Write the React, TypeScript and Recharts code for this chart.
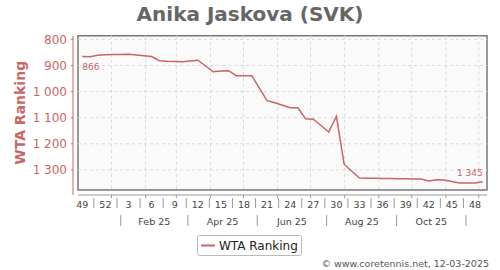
import { FC } from "react";
import { LineChart, Line, XAxis, YAxis, ReferenceLine, ReferenceArea } from "recharts";

// weekly WTA ranking, week 49 (2024) .. week 49 (2025)
const RANKS = [
  866, 867, 861, 859, 858, 858, 857, 860, 863, 866,
  882, 884, 885, 886, 883, 880, 902, 924, 921, 920,
  939, 939, 939, 987, 1035, 1043, 1052, 1062, 1062, 1104,
  1106, 1130, 1155, 1094, 1278, 1305, 1331, 1332, 1332, 1333,
  1333, 1334, 1334, 1335, 1335, 1342, 1338, 1339, 1344, 1350,
  1350, 1350, 1345,
];
const Y_TICKS = [800, 900, 1000, 1100, 1200, 1300];
const WEEK_TICKS = [0, 3, 6, 9, 12, 15, 18, 21, 24, 27, 30, 33, 36, 39, 42, 45, 48, 51];
const MONTH_NAMES = ["Feb 25", "Apr 25", "Jun 25", "Aug 25", "Oct 25"];

const data = RANKS.map((rank, i) => ({ i, rank }));

const RED = "#c96565";
const FONT = "DejaVu Sans, sans-serif";

// axis extents (frame sits inside, axes offset by a few px)
const X_MIN = -1.21;
const X_MAX = 52.56;
const FRAME_LEFT = -0.56;
const Y_TOP = 786;
const FRAME_BOTTOM = 1377;
const Y_BOT = 1396;

// month positions in week units from the first point
const DAY0 = Date.UTC(2024, 11, 5, 12);
const monthPos = (m: number) => (Date.UTC(2025, m, 1) - DAY0) / (7 * 864e5);
const MONTH_STARTS = Array.from({ length: 12 }, (_, m) => monthPos(m));
const MONTH_LABEL_POS = [1, 3, 5, 7, 9].map((m) => (monthPos(m) + monthPos(m + 1)) / 2);
const MONTH_SEP_POS = [0, 2, 4, 6, 8, 10].map((m) => (monthPos(m) + monthPos(m + 1)) / 2);

const fmt = (v: number) => String(v).replace(/\B(?=(\d{3})+(?!\d))/g, " ");
const weekLabel = (i: number) => ((48 + i) % 52) + 1;

const weekSeps = WEEK_TICKS.slice(0, -1).map((t) => t + 1.5);

const WeekTick = ({ x, y, payload }: any) => {
  const v = payload.value;
  if (v % 3 === 0) {
    return (
      <text x={x} y={y + 12.5} textAnchor="middle" fontSize={9.5} fontFamily={FONT} fill="#444">
        {weekLabel(v)}
      </text>
    );
  }
  return <line x1={x} x2={x} y1={y + 3} y2={y + 13} stroke="#999" />;
};

const MonthTick = ({ x, y, payload, index }: any) => {
  const v = payload.value;
  const li = MONTH_LABEL_POS.indexOf(v);
  if (li >= 0) {
    return (
      <text x={x} y={y + 9.5} textAnchor="middle" fontSize={9.5} fontFamily={FONT} fill="#444">
        {MONTH_NAMES[li]}
      </text>
    );
  }
  return <line x1={x} x2={x} y1={y} y2={y + 11} stroke="#999" key={index} />;
};

const RankTick = ({ x, y, payload }: any) => (
  <g>
    <line x1={x - 2} x2={x} y1={y} y2={y} stroke={RED} />
    <text x={x - 6} y={y + 4.5} textAnchor="end" fontSize={12} fontFamily={FONT} fill={RED}>
      {fmt(payload.value)}
    </text>
  </g>
);

const EndLabel = ({ x, y, index, value }: any) => {
  if (index === 0)
    return (
      <text x={x} y={y + 13} fontSize={9} fontFamily={FONT} fill={RED}>
        {fmt(value)}
      </text>
    );
  if (index === RANKS.length - 1)
    return (
      <text x={x} y={y - 5.5} textAnchor="end" fontSize={9} fontFamily={FONT} fill={RED}>
        {fmt(value)}
      </text>
    );
  return null;
};

const App: FC = () => {
  return (
    <div style={{ position: "absolute", left: 0, top: 0, width: 500, height: 270, background: "#fff" }}>
      <LineChart
        width={500}
        height={270}
        data={data}
        margin={{ top: 35.7, right: 13, bottom: 35, left: 0 }}
      >
        <XAxis
          dataKey="i"
          type="number"
          domain={[X_MIN, X_MAX]}
          allowDataOverflow
          ticks={[...WEEK_TICKS, ...weekSeps].sort((a, b) => a - b)}
          interval={0}
          tick={<WeekTick />}
          tickLine={false}
          tickSize={0}
          tickMargin={0}
          axisLine={false}
          height={20}
        />
        <XAxis
          xAxisId="m"
          type="number"
          domain={[X_MIN, X_MAX]}
          allowDataOverflow
          ticks={[...MONTH_SEP_POS, ...MONTH_LABEL_POS].sort((a, b) => a - b)}
          interval={0}
          tick={<MonthTick />}
          tickLine={false}
          tickSize={0}
          tickMargin={0}
          axisLine={false}
          height={20}
        />
        <YAxis
          type="number"
          reversed
          domain={[Y_TOP, Y_BOT]}
          allowDataOverflow
          ticks={Y_TICKS}
          interval={0}
          tick={<RankTick />}
          tickLine={false}
          tickSize={0}
          tickMargin={0}
          axisLine={{ stroke: "#d08080", strokeWidth: 1.2 }}
          width={73}
          label={{
            content: () => (
              <text
                x={20.5}
                y={112.8}
                transform="rotate(-90 20.5 112.8)"
                textAnchor="middle"
                dominantBaseline="central"
                fontSize={14}
                fontWeight="bold"
                fontFamily={FONT}
                fill={RED}
              >
                WTA Ranking
              </text>
            ),
          }}
        />
        <ReferenceArea
          x1={FRAME_LEFT}
          x2={X_MAX}
          y1={Y_TOP}
          y2={FRAME_BOTTOM}
          fill="#fafafa"
          fillOpacity={1}
          stroke="none"
          ifOverflow="visible"
        />
        {Y_TICKS.map((t) => (
          <ReferenceLine
            key={"h" + t}
            segment={[{ x: FRAME_LEFT, y: t }, { x: X_MAX, y: t }]}
            stroke="#d9d9d9"
            strokeDasharray="3 3"
            ifOverflow="visible"
          />
        ))}
        {MONTH_STARTS.map((m) => (
          <ReferenceLine
            key={"v" + m}
            segment={[{ x: m, y: Y_TOP }, { x: m, y: FRAME_BOTTOM }]}
            stroke="#d9d9d9"
            strokeDasharray="3 3"
            ifOverflow="visible"
          />
        ))}
        {MONTH_STARTS.map((m) => (
          <ReferenceLine
            key={"t" + m}
            segment={[{ x: m, y: Y_BOT }, { x: m, y: Y_BOT + 11.5 }]}
            stroke="#999"
            ifOverflow="visible"
          />
        ))}
        <ReferenceArea
          x1={FRAME_LEFT}
          x2={X_MAX}
          y1={Y_TOP}
          y2={FRAME_BOTTOM}
          fill="none"
          stroke="#777"
          strokeWidth={1.5}
          ifOverflow="visible"
        />
        <ReferenceLine
          segment={[{ x: FRAME_LEFT, y: Y_BOT }, { x: X_MAX, y: Y_BOT }]}
          stroke="#999"
          strokeWidth={1.2}
          ifOverflow="visible"
        />
        <Line
          type="linear"
          dataKey="rank"
          stroke={RED}
          strokeWidth={1.5}
          dot={false}
          isAnimationActive={false}
          label={<EndLabel />}
        />
      </LineChart>
      <svg
        width={500}
        height={270}
        style={{ position: "absolute", left: 0, top: 0, pointerEvents: "none" }}
        fontFamily={FONT}
      >
        <text x={250} y={21} textAnchor="middle" fontSize={20} fontWeight="bold" fill="#666">
          Anika Jaskova (SVK)
        </text>
        <rect x={197.5} y={235.5} width={104} height={20} rx={2} fill="#fff" stroke="#bbb" />
        <line x1={201} x2={215} y1={245.5} y2={245.5} stroke={RED} strokeWidth={2} />
        <text x={219} y={250} fontSize={12} fill="#222">
          WTA Ranking
        </text>
        <text x={489} y={267} textAnchor="end" fontSize={9.5} fill="#555">
          © www.coretennis.net, 12-03-2025
        </text>
      </svg>
    </div>
  );
};

export default App;
